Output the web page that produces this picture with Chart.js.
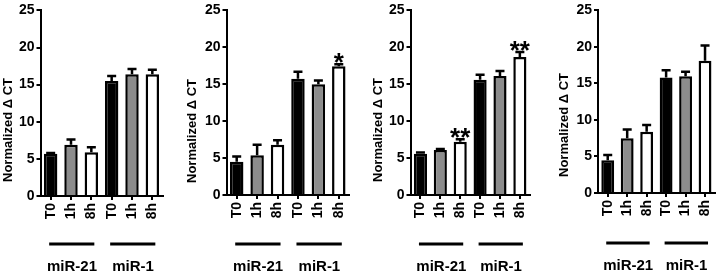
<!DOCTYPE html>
<html>
<head>
<meta charset="utf-8">
<script src="https://cdn.jsdelivr.net/npm/chart.js@4/dist/chart.umd.min.js"></script>
<style>
  html, body { margin: 0; padding: 0; background: #ffffff; }
  #wrap { position: relative; width: 725px; height: 273px; overflow: hidden; background: #fff; }
  canvas { position: absolute; top: 0; }
</style>
</head>
<body>
<div id="wrap">
  <canvas id="p1" width="180" height="273" style="left:0px"></canvas>
  <canvas id="p2" width="180" height="273" style="left:180px"></canvas>
  <canvas id="p3" width="180" height="273" style="left:360px"></canvas>
  <canvas id="p4" width="185" height="273" style="left:540px"></canvas>
</div>
<script>
// ---- data ----
const categories = ['T0', '1h', '8h', 'T0', '1h', '8h'];
const groupLabels = ['miR-21', 'miR-1'];
const groupSize = 3;
const yTicks = [0, 5, 10, 15, 20, 25];
const yTitle = 'Normalized \u0394 CT';

const panel1Values = [5.7, 6.9, 5.9, 15.5, 16.4, 16.4];
const panel1Errors = [0.1, 0.7, 0.65, 0.65, 0.7, 0.6];
const panel1Stars  = ['', '', '', '', '', ''];

const panel2Values = [4.5, 5.4, 6.8, 15.75, 15.0, 17.45];
const panel2Errors = [0.7, 1.4, 0.6, 0.95, 0.5, 0.25];
const panel2Stars  = ['', '', '', '', '', '*'];

const panel3Values = [5.6, 6.1, 7.2, 15.6, 16.1, 18.7];
const panel3Errors = [0.15, 0.12, 0.35, 0.7, 0.7, 0.65];
const panel3Stars  = ['', '', '**', '', '', '**'];

const panel4Values = [4.5, 7.5, 8.4, 15.8, 16.0, 18.1];
const panel4Errors = [0.7, 1.2, 0.9, 1.0, 0.6, 2.1];
const panel4Stars  = ['', '', '', '', '', ''];

// ---- styling / layout ----
const FONT = '"Liberation Sans", Arial, Helvetica, sans-serif';
const barColors = ['#000000', '#8c8c8c', '#ffffff', '#000000', '#8c8c8c', '#ffffff'];

const panels = [
  { id: 'p1', values: panel1Values, errors: panel1Errors, stars: panel1Stars,
    w: 180, left: 40.5, right: 162.5, top: 8, bottom: 196, titleX: 8, titleY: 130, lineY: 244, labelY: 271 },
  { id: 'p2', values: panel2Values, errors: panel2Errors, stars: panel2Stars,
    w: 180, left: 46.5, right: 169, top: 8, bottom: 195, titleX: 12, titleY: 131, lineY: 244, labelY: 271 },
  { id: 'p3', values: panel3Values, errors: panel3Errors, stars: panel3Stars,
    w: 180, left: 50.5, right: 176, top: 8, bottom: 195, titleX: 18, titleY: 130, lineY: 244, labelY: 271 },
  { id: 'p4', values: panel4Values, errors: panel4Errors, stars: panel4Stars,
    w: 185, left: 58, right: 183, top: 5, bottom: 193, titleX: 24, titleY: 125, lineY: 243, labelY: 270 }
];

const extrasPlugin = {
  id: 'extras',
  afterDatasetsDraw(chart, args, opts) {
    const ctx = chart.ctx;
    const meta = chart.getDatasetMeta(0);
    const ys = chart.scales.y;
    const p = opts.panel;
    ctx.save();
    ctx.strokeStyle = '#000';
    ctx.lineWidth = 2.5;
    meta.data.forEach((bar, i) => {
      const v = p.values[i], e = p.errors[i];
      const yTop = ys.getPixelForValue(v);
      const yErr = ys.getPixelForValue(v + e);
      ctx.beginPath();
      ctx.moveTo(bar.x, yTop);
      ctx.lineTo(bar.x, yErr);
      ctx.moveTo(bar.x - 4.5, yErr);
      ctx.lineTo(bar.x + 4.5, yErr);
      ctx.stroke();
      if (p.stars[i]) {
        ctx.fillStyle = '#000';
        ctx.font = 'bold 26px ' + FONT;
        ctx.textAlign = 'center';
        ctx.textBaseline = 'alphabetic';
        ctx.fillText(p.stars[i], bar.x, yErr + 7);
      }
    });
    ctx.restore();
  },
  afterDraw(chart, args, opts) {
    const ctx = chart.ctx;
    const xs = chart.scales.x;
    const p = opts.panel;
    ctx.save();
    // y title
    ctx.translate(p.titleX, p.titleY);
    ctx.rotate(-Math.PI / 2);
    ctx.fillStyle = '#000';
    ctx.font = 'bold 13px ' + FONT;
    ctx.textAlign = 'center';
    ctx.textBaseline = 'middle';
    ctx.fillText(yTitle, 0, 0);
    ctx.restore();
    // group lines + labels
    ctx.save();
    ctx.strokeStyle = '#000';
    ctx.fillStyle = '#000';
    ctx.lineWidth = 3;
    ctx.font = 'bold 15px ' + FONT;
    ctx.textAlign = 'center';
    ctx.textBaseline = 'alphabetic';
    groupLabels.forEach((g, gi) => {
      const x0 = xs.getPixelForTick(gi * groupSize);
      const x2 = xs.getPixelForTick(gi * groupSize + groupSize - 1);
      const xm = xs.getPixelForTick(gi * groupSize + 1);
      ctx.beginPath();
      ctx.moveTo(x0 - 1.5, p.lineY);
      ctx.lineTo(x2 + 3, p.lineY);
      ctx.stroke();
      ctx.fillText(g, xm + 1, p.labelY);
    });
    ctx.restore();
  }
};

panels.forEach(p => {
  const H = 273;
  new Chart(document.getElementById(p.id), {
    type: 'bar',
    data: {
      labels: categories,
      datasets: [{
        data: p.values,
        backgroundColor: barColors,
        borderColor: '#000',
        borderWidth: 2.5,
        barPercentage: 0.66,
        categoryPercentage: 1.0
      }]
    },
    plugins: [extrasPlugin],
    options: {
      responsive: false,
      animation: false,
      devicePixelRatio: 1,
      layout: {
        autoPadding: false,
        padding: { left: 0, top: p.top, right: p.w - p.right, bottom: 0 }
      },
      plugins: {
        legend: { display: false },
        tooltip: { enabled: false },
        title: { display: false },
        extras: { panel: p }
      },
      scales: {
        x: {
          type: 'category',
          offset: true,
          afterFit: s => { s.height = H - p.bottom; },
          grid: { display: true, drawOnChartArea: false, drawTicks: true, tickLength: 4,
                  color: '#000', lineWidth: 2, offset: false },
          border: { display: true, color: '#000', width: 2 },
          ticks: { color: '#000', autoSkip: false, minRotation: 90, maxRotation: 90, padding: 3,
                   font: { family: FONT, size: 14, weight: 'bold' } }
        },
        y: {
          min: 0, max: 25,
          afterFit: s => { s.width = p.left; },
          afterBuildTicks: s => { s.ticks = yTicks.map(v => ({ value: v })); },
          grid: { display: true, drawOnChartArea: false, drawTicks: true, tickLength: 4,
                  color: '#000', lineWidth: 2 },
          border: { display: true, color: '#000', width: 2 },
          ticks: { color: '#000', padding: 2,
                   font: { family: FONT, size: 14, weight: 'bold' } }
        }
      }
    }
  });
});
</script>
</body>
</html>
